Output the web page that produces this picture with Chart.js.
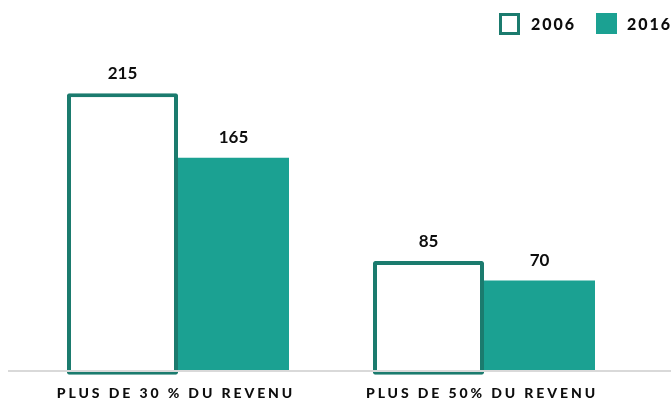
<!DOCTYPE html>
<html>
<head>
<meta charset="utf-8">
<script src="https://cdn.jsdelivr.net/npm/chart.js@4.4.1/dist/chart.umd.min.js"></script>
<style>
  html, body { margin: 0; padding: 0; background: #fff; }
  #wrap { width: 671px; height: 400px; position: relative; }
</style>
</head>
<body>
<div id="wrap"><canvas id="chart"></canvas></div>
<script>
// --- Data ---
const categories = ["PLUS DE 30 % DU REVENU", "PLUS DE 50% DU REVENU"];
const seriesNames = ["2006", "2016"];
const values2006 = [215, 85];
const values2016 = [165, 70];

// --- Colours ---
const darkTeal = "#1b7b6e";
const teal = "#1ba192";
const baseGray = "#d9d9d9";
const ink = "#0d0d0d";

// Value labels above each bar
const valueLabels = {
  id: "valueLabels",
  afterDatasetsDraw(chart) {
    const ctx = chart.ctx;
    ctx.save();
    ctx.font = "bold 17px Lato";
    ctx.fillStyle = ink;
    ctx.textAlign = "center";
    ctx.textBaseline = "middle";
    chart.data.datasets.forEach((ds, i) => {
      chart.getDatasetMeta(i).data.forEach((bar, j) => {
        ctx.fillText(String(ds.data[j]), bar.x, bar.y - 20);
      });
    });
    ctx.restore();
  }
};

// Baseline, category labels and legend (letter-spaced text)
const decorations = {
  id: "decorations",
  afterDatasetsDraw(chart) {
    const ctx = chart.ctx;
    const y0 = chart.scales.y.getPixelForValue(0);
    ctx.save();
    ctx.fillStyle = baseGray;
    ctx.fillRect(8, Math.round(y0) - 1, chart.width - 8, 2);
    ctx.restore();
  },
  afterDraw(chart) {
    const ctx = chart.ctx;
    const xs = chart.scales.x;
    ctx.save();
    ctx.fillStyle = ink;
    ctx.textBaseline = "middle";
    ctx.textAlign = "center";
    ctx.font = "900 14px Lato";
    ctx.letterSpacing = "2.9px";
    categories.forEach((c, i) => {
      ctx.fillText(c, xs.getPixelForTick(i) - 2, 393);
    });

    // legend
    ctx.font = "900 16px Lato";
    ctx.letterSpacing = "2px";
    ctx.textAlign = "left";
    ctx.strokeStyle = darkTeal;
    ctx.lineWidth = 3;
    ctx.strokeRect(500.5, 14.5, 18, 19);
    ctx.fillText(seriesNames[0], 531, 25);
    ctx.fillStyle = teal;
    ctx.fillRect(596, 13, 21, 21);
    ctx.fillStyle = ink;
    ctx.fillText(seriesNames[1], 627, 25);
    ctx.restore();
  }
};

new Chart(document.getElementById("chart"), {
  type: "bar",
  data: {
    labels: categories,
    datasets: [
      {
        label: seriesNames[0],
        data: values2006,
        base: -3,
        backgroundColor: "#ffffff",
        borderColor: darkTeal,
        borderWidth: 4,
        borderSkipped: false,
        borderRadius: 2
      },
      {
        label: seriesNames[1],
        data: values2016,
        backgroundColor: teal,
        borderWidth: 0
      }
    ]
  },
  options: {
    responsive: true,
    maintainAspectRatio: false,
    animation: false,
    layout: { padding: { left: 25, right: 34, top: 48, bottom: 24 } },
    datasets: {
      bar: { categoryPercentage: 0.7255, barPercentage: 1 }
    },
    plugins: {
      legend: { display: false },
      tooltip: { enabled: false }
    },
    scales: {
      x: { display: false },
      y: { display: false, min: -4, max: 250 }
    }
  },
  plugins: [valueLabels, decorations]
});
</script>
</body>
</html>
